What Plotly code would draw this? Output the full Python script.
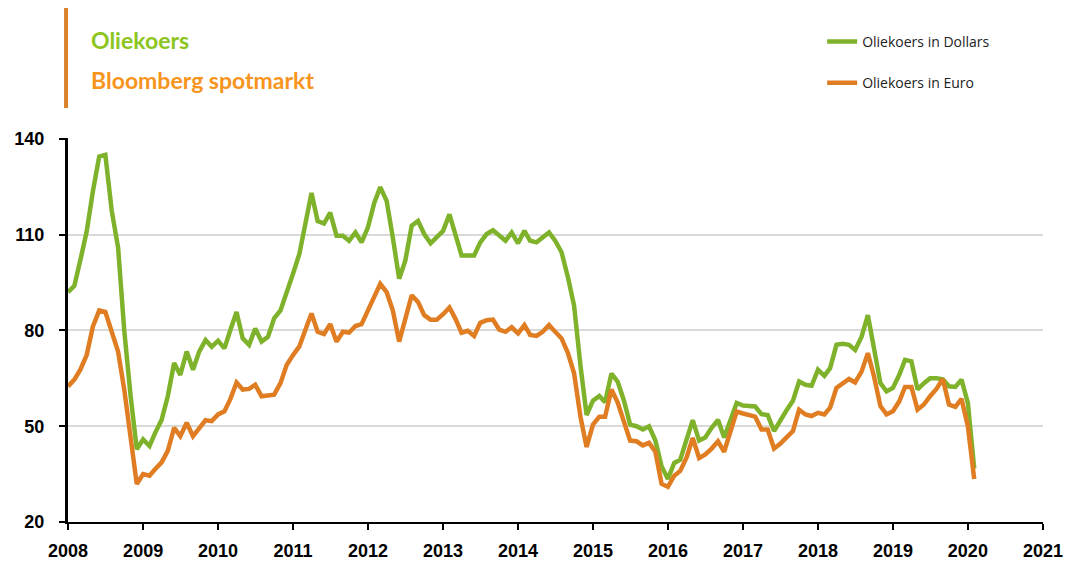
import pandas as pd
import plotly.graph_objects as go

# Monthly data, Jan 2008 .. Feb 2020
start_month = "2008-01-01"
dollars = [
    92, 94, 102, 111, 123.5, 134.5, 135, 117.5, 106, 80, 59.5, 42.8,
    45.9, 43.8, 48, 52, 59.4, 69.8, 66.1, 73.4, 67.7, 73.4, 77, 74.9,
    76.8, 74.4, 80, 85.8, 77.5, 75.5, 80.6, 76.5, 78, 83.8, 86.3, 91.5,
    97.8, 104, 112.8, 123.1, 114.3, 113.5, 116.9, 109.7, 109.7, 108.1, 110.7, 107.6,
    112.3, 120, 124.9, 120.6, 109.2, 96.2, 101.9, 112.8, 114.3, 110.2, 107.3, 109.2,
    111.2, 116.4, 110.2, 103.5, 103.5, 103.5, 107.6, 110.2, 111.4, 109.7, 108.1, 110.7,
    107.3, 111.2, 108.1, 107.6, 109.2, 110.7, 108.1, 104.5, 96.7, 87.8, 69, 53.5,
    58, 59.5, 57.5, 66.5, 64, 58, 50.5, 50, 49, 50, 45.5, 37.5,
    33.5, 38.5, 39.5, 45.4, 51.9, 45.5, 46.5, 49.5, 52, 46.5, 52, 57.3,
    56.5, 56.3, 56.2, 53.8, 53.5, 48.5, 52, 55, 58, 64, 63, 62.7,
    67.7, 65.8, 68.2, 75.5, 75.8, 75.5, 73.9, 78, 84.8, 73.9, 63.5, 60.9,
    62, 66.1, 70.8, 70.3, 61.5, 63.5, 65, 65, 64.7, 62.5, 62.3, 64.6,
    57.3, 36.8,
]
euro = [
    62.5, 64.6, 67.7, 72.3, 81.2, 86.3, 85.8, 79.1, 73.4, 61.5, 45.9, 31.9,
    35, 34.5, 36.6, 38.7, 42.3, 49.5, 46.9, 51.1, 46.9, 49.5, 51.9, 51.6,
    53.7, 54.7, 58.4, 63.7, 61.5, 61.7, 63, 59.4, 59.6, 59.9, 63.5, 69.2,
    72.3, 75, 80, 85.3, 79.6, 78.9, 82, 76.5, 79.6, 79.3, 81.4, 82,
    86.3, 91, 94.6, 92, 86.3, 76.5, 84.3, 91, 88.9, 84.8, 83.4, 83.4,
    85.1, 87.2, 83.8, 79.3, 79.9, 78.3, 82.4, 83.2, 83.4, 80.3, 79.6, 81,
    79.1, 81.7, 78.6, 78.3, 79.6, 81.7, 79.6, 77.5, 72.9, 66.6, 53, 43.5,
    50.5, 53, 53, 61.5, 57.5, 51, 45.5, 45.3, 44, 44.8, 42, 32,
    31, 34.5, 36, 40.2, 46.3, 40, 41.2, 43, 45.3, 42, 48.2, 54.6,
    54, 53.6, 53, 49, 49, 43, 44.5, 46.5, 48.5, 55.2, 53.7, 53.2,
    54.2, 53.7, 55.8, 62, 63.5, 64.8, 63.7, 67.1, 72.9, 65.6, 56.3, 53.7,
    54.7, 57.8, 62.3, 62.3, 55.2, 56.8, 59.4, 61.7, 64.8, 56.8, 56.1, 58.6,
    50, 33.5,
]
series_names = ["Oliekoers in Dollars", "Oliekoers in Euro"]
y_ticks = [20, 50, 80, 110, 140]
x_range = ["2008-01-01", "2021-01-01"]

dates = pd.date_range(start_month, periods=len(dollars), freq="MS")

GREEN = "#7FB22B"
ORANGE = "#E07D22"

fig = go.Figure()
fig.add_trace(go.Scatter(x=dates, y=dollars, mode="lines", name=series_names[0],
                         line=dict(color=GREEN, width=4.5), legend="legend"))
fig.add_trace(go.Scatter(x=dates, y=euro, mode="lines", name=series_names[1],
                         line=dict(color=ORANGE, width=4.5), legend="legend2"))

legend_common = dict(
    xanchor="left", yanchor="middle", bgcolor="rgba(0,0,0,0)",
    font=dict(family="Open Sans, Arial", size=14, color="#222"),
    itemwidth=30,
)
tickfont = dict(family="Liberation Sans, Arial", size=18, color="black", weight="bold")

fig.update_layout(
    width=1064, height=556,
    paper_bgcolor="white", plot_bgcolor="white",
    margin=dict(l=60, r=29, t=130, b=42, autoexpand=False),
    showlegend=True,
    legend=dict(x=0.7735, y=1.25, **legend_common),
    legend2=dict(x=0.7735, y=1.143, **legend_common),
    xaxis=dict(
        type="date", range=x_range, dtick="M12", tickformat="%Y",
        showgrid=False, showline=True, linecolor="black", linewidth=2,
        ticks="outside", ticklen=6, tickwidth=2, tickcolor="black",
        tickfont=tickfont, ticklabelstandoff=5, automargin=False,
        zeroline=False,
    ),
    yaxis=dict(
        range=[20, 140.3], tickvals=y_ticks,
        showgrid=True, gridcolor="#D9D9D9", gridwidth=2,
        showline=True, linecolor="black", linewidth=3,
        ticks="outside", ticklen=6, tickwidth=2, tickcolor="black",
        tickfont=tickfont, ticklabelstandoff=11, automargin=False,
        zeroline=False,
    ),
)

# Title block
fig.add_shape(type="line", xref="paper", yref="paper",
              x0=-0.002, x1=-0.002, y0=1.078, y1=1.346,
              line=dict(color="#D9822B", width=4))
fig.add_annotation(xref="paper", yref="paper", x=0.022, y=1.255,
                   xanchor="left", yanchor="middle", showarrow=False,
                   text="Oliekoers",
                   font=dict(family="Lato, Open Sans, Arial", size=23, color="#8DC520", weight="bold"))
fig.add_annotation(xref="paper", yref="paper", x=0.022, y=1.15,
                   xanchor="left", yanchor="middle", showarrow=False,
                   text="Bloomberg spotmarkt",
                   font=dict(family="Lato, Open Sans, Arial", size=23, color="#F7941D", weight="bold"))

fig.write_html("out.html")
